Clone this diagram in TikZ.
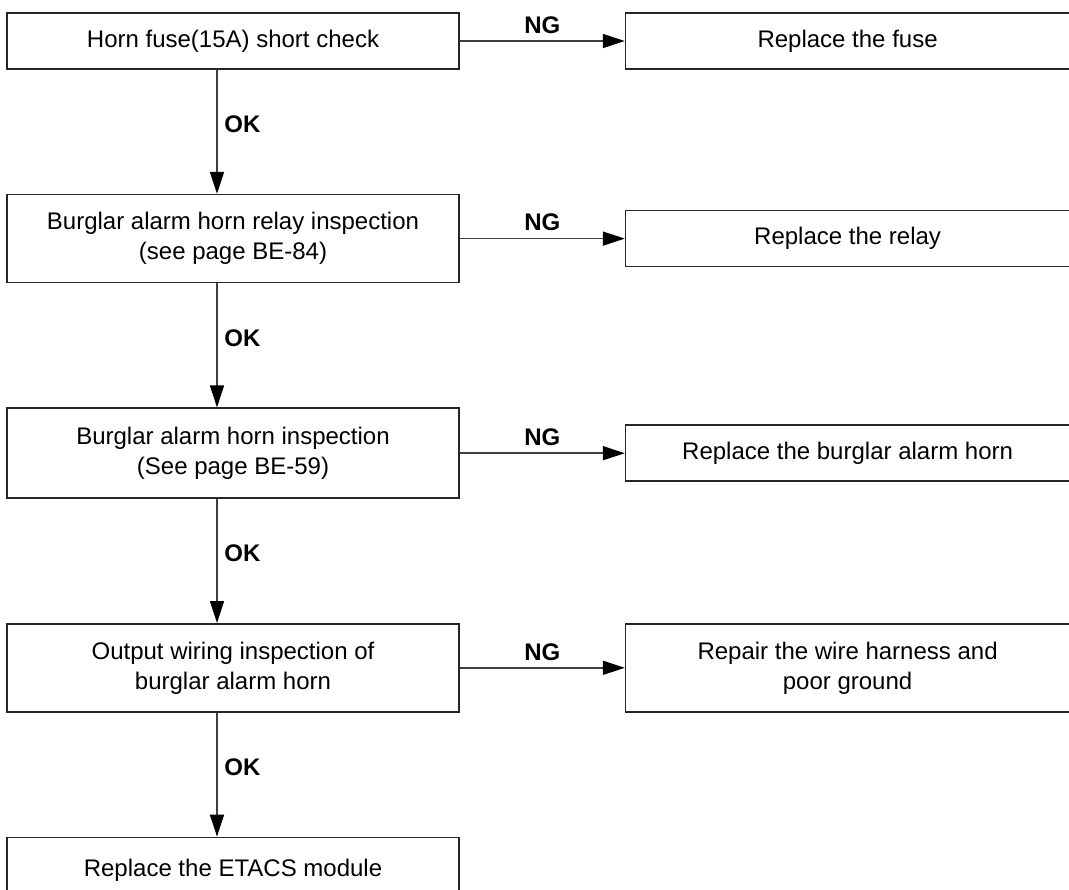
\documentclass[tikz,border=0pt]{standalone}
\usepackage{fontspec}
\setmainfont{Liberation Sans}
\usetikzlibrary{arrows.meta, positioning}

\begin{document}
\begin{tikzpicture}[
    font=\fontsize{12}{15}\selectfont,
    node distance=62pt and 82.5pt,
    check/.style={draw=black!85, line width=0.8pt, rectangle, minimum width=226pt,
      minimum height=44pt, align=center, inner sep=0pt},
    remedy/.style={draw=black!85, line width=0.8pt, rectangle, minimum width=222pt,
      minimum height=28pt, align=center, inner sep=0pt},
    arrow/.style={draw=black!75, line width=0.8pt,
      -{Triangle[length=11pt, width=7pt, color=black]}},
    verdict/.style={font=\fontsize{12}{15}\selectfont\bfseries}
]
\useasboundingbox (-116.5pt,20.5pt) rectangle (418pt,-424pt);
\node[check, minimum height=28pt] (fuse) {Horn fuse(15A) short check};
\node[check, below=of fuse] (relay) {Burglar alarm horn relay inspection\\(see page BE-84)};
\node[check, minimum height=45pt, below=of relay] (horn) {Burglar alarm horn inspection\\(See page BE-59)};
\node[check, below=of horn] (wiring) {Output wiring inspection of\\burglar alarm horn};
\node[check, minimum height=33pt, below=of wiring] (etacs) {Replace the ETACS module};
\node[remedy, right=of fuse] (newfuse) {Replace the fuse};
\node[remedy, right=of relay] (newrelay) {Replace the relay};
\node[remedy, right=of horn] (newhorn) {Replace the burglar alarm horn};
\node[remedy, minimum height=44pt, right=of wiring] (harness) {Repair the wire harness and\\poor ground};
% OK path down the left column
\draw[arrow] ([xshift=-8pt]fuse.south) -- node[verdict, right, pos=0.44] {OK} ([xshift=-8pt]relay.north);
\draw[arrow] ([xshift=-8pt]relay.south) -- node[verdict, right, pos=0.44] {OK} ([xshift=-8pt]horn.north);
\draw[arrow] ([xshift=-8pt]horn.south) -- node[verdict, right, pos=0.44] {OK} ([xshift=-8pt]wiring.north);
\draw[arrow] ([xshift=-8pt]wiring.south) -- node[verdict, right, pos=0.44] {OK} ([xshift=-8pt]etacs.north);
% NG branches
\draw[arrow] (fuse) -- node[verdict, above] {NG} (newfuse);
\draw[arrow] (relay) -- node[verdict, above] {NG} (newrelay);
\draw[arrow] (horn) -- node[verdict, above] {NG} (newhorn);
\draw[arrow] (wiring) -- node[verdict, above] {NG} (harness);
\end{tikzpicture}
\end{document}
